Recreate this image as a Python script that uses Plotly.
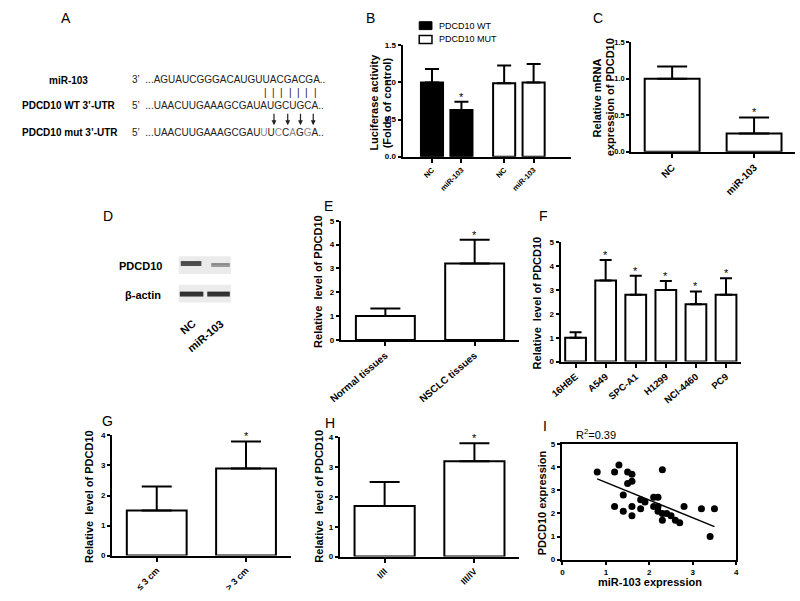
import plotly.graph_objects as go

W, H = 800, 601
def X(px): return px / W
def Y(py): return 1 - py / H

FONT = "Liberation Sans, Arial, sans-serif"

# ---------------- data ----------------
# Panel B
b_labels = ["NC", "miR-103", "NC", "miR-103"]
b_wt_vals = [1.00, 0.63]
b_wt_err = [0.18, 0.11]
b_mut_vals = [0.99, 1.00]
b_mut_err = [0.24, 0.25]
b_wt_pos = [0, 1]
b_mut_pos = [2.45, 3.45]
# Panel C
c_cats = ["NC", "miR-103"]
c_vals = [1.00, 0.25]
c_err = [0.17, 0.22]
# Panel E
e_cats = ["Normal tissues", "NSCLC tissues"]
e_vals = [1.0, 3.2]
e_err = [0.32, 1.0]
# Panel F
f_cats = ["16HBE", "A549", "SPC-A1", "H1299", "NCI-4460", "PC9"]
f_vals = [1.0, 3.4, 2.8, 3.0, 2.4, 2.8]
f_err = [0.23, 0.86, 0.8, 0.38, 0.54, 0.7]
# Panel G
g_cats = ["\u2264 3 cm", "> 3 cm"]
g_vals = [1.5, 2.9]
g_err = [0.8, 0.9]
# Panel H
h_cats = ["I/II", "III/IV"]
h_vals = [1.7, 3.2]
h_err = [0.8, 0.6]
# Panel I
i_x = [0.8, 1.2, 1.3, 1.5, 1.6, 1.5, 1.6, 1.4, 1.2, 1.4, 1.6, 1.6, 1.8, 1.9, 1.8,
       2.1, 2.2, 2.3, 2.1, 2.2, 2.2, 2.3, 2.4, 2.5, 2.3, 2.6, 2.7, 2.8, 3.2, 3.5, 3.4]
i_y = [3.8, 3.8, 4.1, 3.8, 3.7, 3.3, 3.4, 2.8, 2.3, 2.1, 2.3, 1.9, 2.6, 2.5, 2.2,
       2.7, 2.7, 3.9, 2.3, 2.3, 2.1, 2.0, 2.0, 1.9, 1.7, 1.7, 1.6, 2.3, 2.2, 2.2, 1.0]
fit_x = [0.8, 3.5]
fit_y = [3.5, 1.43]

fig = go.Figure()

def bar(x, y, err, xa, ya, color="white", width=0.67, cap=7):
    fig.add_trace(go.Bar(
        x=x, y=y, xaxis=xa, yaxis=ya, width=width,
        marker=dict(color=color, line=dict(color="black", width=2)),
        error_y=dict(type="data", symmetric=False, array=err, arrayminus=[0] * len(err),
                     color="black", thickness=2, width=cap),
        showlegend=False, hoverinfo="x+y"))

bar(b_wt_pos, b_wt_vals, b_wt_err, "x", "y", color="black", width=0.75, cap=7)
bar(b_mut_pos, b_mut_vals, b_mut_err, "x", "y", color="white", width=0.75, cap=7)
bar(c_cats, c_vals, c_err, "x2", "y2", width=0.67, cap=15)
bar(e_cats, e_vals, e_err, "x3", "y3", width=0.66, cap=15)
bar(f_cats, f_vals, f_err, "x4", "y4", width=0.69, cap=6)
bar(g_cats, g_vals, g_err, "x5", "y5", width=0.67, cap=15)
bar(h_cats, h_vals, h_err, "x6", "y6", width=0.67, cap=15)

fig.add_trace(go.Scatter(x=i_x, y=i_y, mode="markers", xaxis="x7", yaxis="y7",
                         marker=dict(color="black", size=7), showlegend=False))
fig.add_trace(go.Scatter(x=fit_x, y=fit_y, mode="lines", xaxis="x7", yaxis="y7",
                         line=dict(color="black", width=1.5), showlegend=False))

tickf = dict(family=FONT, size=8, color="black", weight="bold")

def yax(top, bot, rng, dtick, fmt=None):
    d = dict(domain=[Y(bot), Y(top)], range=rng, dtick=dtick, showgrid=False, zeroline=False,
             showline=True, linewidth=2, linecolor="black", ticks="outside", ticklen=3,
             tickwidth=1.5, tickcolor="black", tickfont=tickf, fixedrange=True)
    if fmt:
        d["tickformat"] = fmt
    return d

def xax(left, right, size, angle=-45, **kw):
    d = dict(domain=[X(left), X(right)], showgrid=False, zeroline=False, showline=True,
             linewidth=2, linecolor="black", ticks="outside", ticklen=4, tickwidth=1.5,
             tickcolor="black", tickangle=angle,
             tickfont=dict(family=FONT, size=size, color="black", weight="bold"),
             fixedrange=True)
    d.update(kw)
    return d

layout = dict(
    width=W, height=H, margin=dict(l=0, r=0, t=0, b=0), hovermode=False,
    paper_bgcolor="white", plot_bgcolor="rgba(0,0,0,0)", bargap=0.3,
    font=dict(family=FONT, color="black"),
    xaxis=xax(398, 570, 7.5, anchor="y", range=[-1, 4.73], tickmode="array",
              tickvals=b_wt_pos + b_mut_pos, ticktext=b_labels),
    yaxis=yax(42, 155, [0, 1.5], 0.5, ".1f") | dict(anchor="x"),
    xaxis2=xax(631, 798, 10, anchor="y2", range=[-0.5, 1.5]),
    yaxis2=yax(39, 150, [0, 1.5], 0.5, ".1f") | dict(anchor="x2", tickfont=dict(tickf, size=7.5)),
    xaxis3=xax(335, 517, 10, angle=-40, anchor="y3", range=[-0.5, 1.5]),
    yaxis3=yax(220, 341, [0, 5], 1) | dict(anchor="x3"),
    xaxis4=xax(559, 743, 9.5, angle=-40, anchor="y4", range=[-0.5, 5.5]),
    yaxis4=yax(242, 363, [0, 5], 1) | dict(anchor="x4"),
    xaxis5=xax(102, 284, 9, anchor="y5", range=[-0.5, 1.5]),
    yaxis5=yax(438, 560, [0, 4], 1) | dict(anchor="x5"),
    xaxis6=xax(334, 517, 9, anchor="y6", range=[-0.5, 1.5]),
    yaxis6=yax(440, 561, [0, 4], 1) | dict(anchor="x6"),
    xaxis7=dict(domain=[X(561), X(738)], range=[0, 4], dtick=1, anchor="y7", showgrid=False,
                zeroline=False, showline=True, mirror=True, linewidth=1.5, linecolor="black",
                ticks="outside", ticklen=4, tickwidth=1.5, tickcolor="black", tickfont=tickf,
                fixedrange=True),
    yaxis7=dict(domain=[Y(564), Y(447)], range=[0, 5], dtick=1, anchor="x7", showgrid=False,
                zeroline=False, showline=True, mirror=True, linewidth=1.5, linecolor="black",
                ticks="outside", ticklen=4, tickwidth=1.5, tickcolor="black", tickfont=tickf,
                fixedrange=True),
)

ann = []
def text(px, py, t, size=11, bold=False, xanchor="center", angle=0, color="black", fam=FONT):
    ann.append(dict(x=X(px), y=Y(py), xref="paper", yref="paper", text=t, showarrow=False,
                    xanchor=xanchor, yanchor="middle", textangle=angle,
                    font=dict(family=fam, size=size, color=color,
                              weight="bold" if bold else "normal")))

# panel letters
for lt, px, py in [("A", 55, 14), ("B", 365, 14), ("C", 597, 14), ("D", 98, 215),
                   ("E", 323, 205), ("F", 542, 215), ("G", 97, 423), ("H", 324, 425),
                   ("I", 543, 428)]:
    text(px, py, lt, size=14)

# Panel A
text(58, 78, "miR-103", size=10, bold=True)
text(108, 103, "PDCD10 WT 3\u2019-UTR", size=10, bold=True, xanchor="right")
text(110, 130, "PDCD10 mut 3\u2019-UTR", size=10, bold=True, xanchor="right")
seqc = "#222222"
sp = "\u00a0\u00a0"
text(120, 77, "3\u2019" + sp + "...AGUAUCGGGACAUGUUACGACGA..", size=10, xanchor="left", color=seqc)
text(120, 103, "5\u2019" + sp + "...UAACUUGAAAGCGAUAUGCUGCA..", size=10, xanchor="left", color=seqc)
g = "<span style='color:#8a8a8a'>%s</span>"
text(120, 130, "5\u2019" + sp + "...UAACUUGAAAGCGAU" + g % "U" + "U" + g % "C" + "C" + g % "A" + "G" + g % "G" + "A..",
     size=10, xanchor="left", color=seqc)
for k in range(7):
    text(258 + k * 8.5, 90, "|", size=10, color=seqc)
for ax_px in [267, 281, 294, 307]:
    ann.append(dict(x=X(ax_px), y=Y(123), ax=0, ay=-13, xref="paper", yref="paper",
                    axref="pixel", ayref="pixel", text="", showarrow=True, arrowhead=2,
                    arrowsize=0.8, arrowwidth=1.2, arrowcolor="#222222"))

# Panel B legend
shapes = []
shapes.append(dict(type="rect", xref="paper", yref="paper", x0=X(415), x1=X(428), y0=Y(26), y1=Y(18),
                   fillcolor="black", line=dict(color="black", width=1)))
shapes.append(dict(type="rect", xref="paper", yref="paper", x0=X(415), x1=X(428), y0=Y(40), y1=Y(32),
                   fillcolor="white", line=dict(color="black", width=1.5)))
text(433, 22, "PDCD10 WT", size=9, xanchor="left")
text(433, 36, "PDCD10 MUT", size=9, xanchor="left")

# axis titles
text(368, 100, "Luciferase activity", size=11, bold=True, angle=-90)
text(382, 100, "(Folds of control)", size=11, bold=True, angle=-90)
text(596, 95, "Relative mRNA", size=11, bold=True, angle=-90)
text(609, 95, "expression of PDCD10", size=11, bold=True, angle=-90)
text(312, 282, "Relative  level of PDCD10", size=11, bold=True, angle=-90)
text(535, 303, "Relative  level of PDCD10", size=11, bold=True, angle=-90)
text(78, 500, "Relative  level of PDCD10", size=11, bold=True, angle=-90)
text(312, 500, "Relative  level of PDCD10", size=11, bold=True, angle=-90)
text(541, 506, "PDCD10 expression", size=11, bold=True, angle=-90)
text(650, 587, "miR-103 expression", size=11, bold=True)
ann.append(dict(x=X(573), y=Y(437), xref="paper", yref="paper", text="R<sup>2</sup>=0.39",
                showarrow=False, xanchor="left", yanchor="middle",
                font=dict(family=FONT, size=11, color="black")))

# significance stars
def star(xa, ya, xv, top):
    ann.append(dict(x=xv, y=top, xref=xa, yref=ya, text="*", showarrow=False, yanchor="bottom",
                    yshift=-3, font=dict(family=FONT, size=11, color="black")))
star("x", "y", b_wt_pos[1], b_wt_vals[1] + b_wt_err[1])
star("x2", "y2", c_cats[1], c_vals[1] + c_err[1])
star("x3", "y3", e_cats[1], e_vals[1] + e_err[1])
for k in range(1, 6):
    star("x4", "y4", f_cats[k], f_vals[k] + f_err[k])
star("x5", "y5", g_cats[1], g_vals[1] + g_err[1])
star("x6", "y6", h_cats[1], h_vals[1] + h_err[1])

# Panel D: western blot
text(155, 266, "PDCD10", size=11, bold=True, xanchor="right")
text(154, 295, "\u03b2-actin", size=11, bold=True, xanchor="right")
for (y0, y1) in [(256, 274), (285, 303)]:
    shapes.append(dict(type="rect", xref="paper", yref="paper", x0=X(170), x1=X(223),
                       y0=Y(y1), y1=Y(y0), fillcolor="#ebebeb", line=dict(width=0), layer="below"))
bands = [(172, 193, 261, 266, "rgba(40,40,40,0.8)"), (203, 222, 263, 267, "rgba(90,90,90,0.55)"),
         (171, 195, 292, 297, "rgba(20,20,20,0.85)"), (199, 222, 292, 297, "rgba(20,20,20,0.85)")]
for x0, x1, y0, y1, c in bands:
    shapes.append(dict(type="path", xref="paper", yref="paper",
                       path="M %f %f Q %f %f %f %f L %f %f Q %f %f %f %f Z" % (
                           X(x0), Y((y0 + y1) / 2), X(x0), Y(y0 - 1), X(x0 + 4), Y(y0),
                           X(x1 - 4), Y(y0), X(x1), Y(y0 - 1), X(x1), Y((y0 + y1) / 2)),
                       fillcolor="rgba(120,120,120,0.3)", line=dict(width=0)))
    shapes.append(dict(type="rect", xref="paper", yref="paper", x0=X(x0), x1=X(x1),
                       y0=Y(y1), y1=Y(y0), fillcolor=c, line=dict(width=0)))
text(179, 328, "NC", size=11, bold=True, angle=-40)
text(197, 337, "miR-103", size=11, bold=True, angle=-40)

layout["annotations"] = ann
layout["shapes"] = shapes
fig.update_layout(**layout)
fig.write_html("out.html", config={"displayModeBar": False},
               post_script="document.body.style.margin='0';document.body.style.overflow='hidden';")
